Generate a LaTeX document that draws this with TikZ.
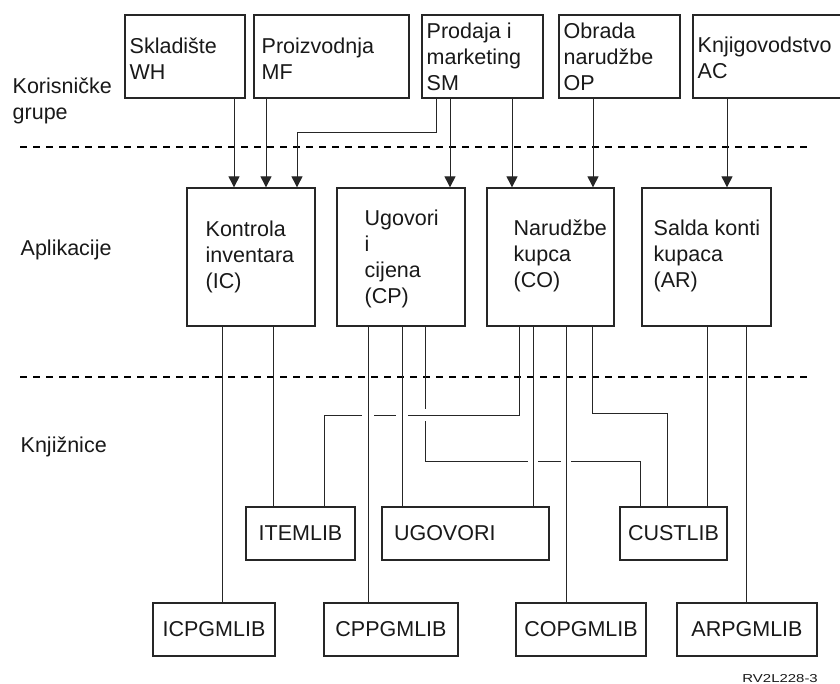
\documentclass[tikz,border=0pt]{standalone}
\usepackage{fontspec}
\setmainfont{Liberation Sans}
\usepackage{graphicx}
\usetikzlibrary{arrows.meta}
\newcommand\mlines[1]{\begin{tabular}[t]{@{}l@{}}#1\end{tabular}}
\begin{document}
\begin{tikzpicture}[x=1bp,y=-1bp,
  every node/.style={font=\fontsize{21.5bp}{26bp}\selectfont, text=black!90},
  box/.style={draw=black!85, line width=1.3bp, inner sep=0pt},
  txt/.style={inner sep=0pt, anchor=base west},
  conn/.style={draw=black!85, line width=1bp},
  arr/.style={conn, -{Triangle[length=11bp,width=11bp]}},
  sep/.style={draw=black, line width=1.5bp, dash pattern=on 7bp off 6bp},
  wipe/.style={fill=white, draw=none}]
\useasboundingbox (0,0) rectangle (840,684);
\fill[white] (0,0) rectangle (840,684);

% user groups
\node[box, minimum width=120bp, minimum height=83bp] (wh) at (185,56.5) {};
\node[box, minimum width=155bp, minimum height=83bp] (mf) at (331.5,56.5) {};
\node[box, minimum width=121bp, minimum height=83bp] (sm) at (482.5,56.5) {};
\node[box, minimum width=121bp, minimum height=83bp] (op) at (619.5,56.5) {};
\node[box, minimum width=157bp, minimum height=83bp] (ac) at (771.5,56.5) {};
\node[txt] (whT) at (129.5,54) {\mlines{Skladište\\WH}};
\node[txt] (mfT) at (261.5,54) {\mlines{Proizvodnja\\MF}};
\node[txt] (smT) at (426.5,39) {\mlines{Prodaja i\\marketing\\SM}};
\node[txt] (opT) at (563.5,39) {\mlines{Obrada\\narudžbe\\OP}};
\node[txt] (acT) at (697.5,53) {\mlines{Knjigovodstvo\\AC}};

% left labels
\node[txt] (korT) at (12.5,94) {\mlines{Korisničke\\grupe}};
\node[txt] (aplT) at (20.5,255) {Aplikacije};
\node[txt] (knjT) at (20.5,452) {Knjižnice};

% separators
\draw[sep] (20,147) -- (813,147);
\draw[sep] (20,377) -- (813,377);

% applications
\node[box, minimum width=128bp, minimum height=138bp] (ic) at (251,257) {};
\node[box, minimum width=128bp, minimum height=138bp] (cp) at (401,257) {};
\node[box, minimum width=127bp, minimum height=138bp] (co) at (550.5,257) {};
\node[box, minimum width=129bp, minimum height=138bp] (ar) at (706.5,257) {};
\node[txt] (icT) at (205.5,236) {\mlines{Kontrola\\inventara\\(IC)}};
\node[txt] (cpT) at (364.5,225) {\mlines{Ugovori\\i\\cijena\\(CP)}};
\node[txt] (coT) at (513.5,235) {\mlines{Narudžbe\\kupca\\(CO)}};
\node[txt] (arT) at (653.5,235) {\mlines{Salda konti\\kupaca\\(AR)}};

% libraries
\node[box, minimum width=109bp, minimum height=53bp] (itemlib) at (300.5,533.5) {ITEMLIB};
\node[box, minimum height=53bp, text width=143bp, align=left, inner xsep=12bp] (ugovori) at (465.5,533.5) {UGOVORI};
\node[box, minimum width=107bp, minimum height=53bp] (custlib) at (673.5,533.5) {CUSTLIB};
\node[box, minimum width=122bp, minimum height=53bp] (icp) at (214,629.5) {ICPGMLIB};
\node[box, minimum width=134bp, minimum height=53bp] (cpp) at (391,629.5) {CPPGMLIB};
\node[box, minimum width=130bp, minimum height=53bp] (cop) at (581,629.5) {COPGMLIB};
\node[box, minimum width=140bp, minimum height=53bp] (arp) at (747,629.5) {ARPGMLIB};

\node[inner sep=0pt, anchor=base east, font=\fontsize{11.5bp}{14bp}\selectfont] (rv) at (818,682) {\scalebox{1.3}[1]{RV2L228-3}};

% arrows: user groups -> applications
\draw[arr] (wh.south -| 234,0) -- (ic.north -| 234,0);
\draw[arr] (mf.south -| 266,0) -- (ic.north -| 266,0);
\draw[arr] (sm.south -| 436,0) |- (297,133) -- (ic.north -| 297,0);
\draw[arr] (sm.south -| 450,0) -- (cp.north -| 450,0);
\draw[arr] (sm.south -| 512,0) -- (co.north -| 512,0);
\draw[arr] (op.south -| 593,0) -- (co.north -| 593,0);
\draw[arr] (ac.south -| 727,0) -- (ar.north -| 727,0);

% applications -> libraries
\draw[conn] (ic.south -| 222,0) -- (icp.north -| 222,0);
\draw[conn] (ic.south -| 273,0) -- (itemlib.north -| 273,0);
\draw[conn] (cp.south -| 368,0) -- (cpp.north -| 368,0);
\draw[conn] (cp.south -| 402,0) -- (ugovori.north -| 402,0);
\draw[conn] (cp.south -| 425,0) |- (640,461) -- (custlib.north -| 640,0);
\draw[conn] (co.south -| 519,0) |- (324,415) -- (itemlib.north -| 324,0);
\draw[conn] (co.south -| 533,0) -- (ugovori.north -| 533,0);
\draw[conn] (co.south -| 566,0) -- (cop.north -| 566,0);
\draw[conn] (co.south -| 592,0) |- (667,413) -- (custlib.north -| 667,0);
\draw[conn] (ar.south -| 707,0) -- (custlib.north -| 707,0);
\draw[conn] (ar.south -| 746,0) -- (arp.north -| 746,0);

% line crossing gaps
\foreach \x in {368,402} {
  \path[wipe] (\x-6,411.5) rectangle (\x+6,418.5);
  \draw[conn] (\x,409) -- (\x,421);
}
\path[wipe] (421.5,409) rectangle (428.5,421);
\draw[conn] (419,415) -- (431,415);
\foreach \x in {533,566} {
  \path[wipe] (\x-5,457.5) rectangle (\x+5,464.5);
  \draw[conn] (\x,455) -- (\x,467);
}
\end{tikzpicture}
\end{document}
